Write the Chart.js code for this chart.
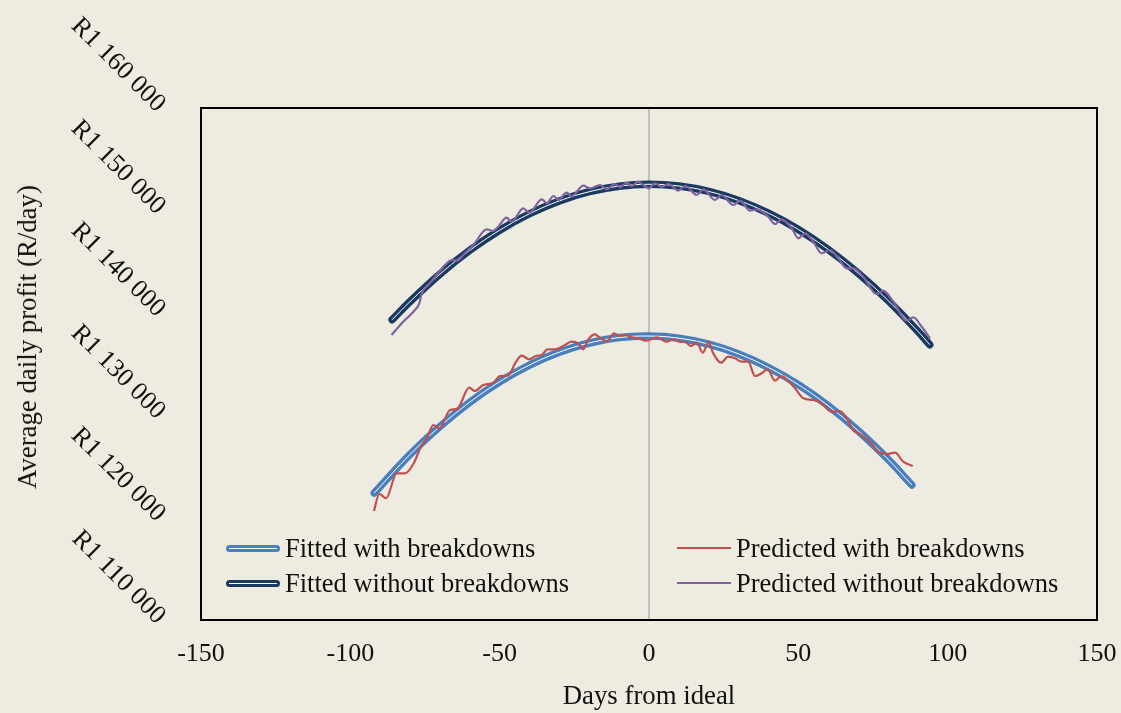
<!DOCTYPE html>
<html>
<head>
<meta charset="utf-8">
<title>Average daily profit vs days from ideal</title>
<script src="https://cdn.jsdelivr.net/npm/chart.js@4.4.1/dist/chart.umd.min.js"></script>
<style>
  html, body { margin: 0; padding: 0; background: #eeece1; }
  #wrap { position: relative; width: 1121px; height: 713px; }
  canvas { display: block; }
  .lg { position: absolute; height: 30px; font-family: "Liberation Serif", "Times New Roman", serif;
        font-size: 26.5px; line-height: 30px; color: #111; white-space: nowrap; }
  .lg .sw { position: absolute; left: 0; width: 54px; }
  .lg .txt { position: absolute; left: 59px; top: 0; }
  .sw.fit { top: 11.5px; height: 7px; border-radius: 3.5px; }
  .sw.fit::after { content: ''; position: absolute; left: 3px; right: 3px; top: 3px; height: 1px; background: #fff; }
  .sw.pred { top: 14px; height: 2px; }
  #ytitle { position: absolute; left: 27px; top: 337px; transform: translate(-50%, -50%) rotate(-90deg);
            font-family: "Liberation Serif", "Times New Roman", serif; font-size: 26.8px; line-height: 30px;
            color: #111; white-space: nowrap; }
</style>
</head>
<body>
<div id="wrap">
  <canvas id="chart" width="1121" height="713"></canvas>
  <div id="ytitle">Average daily profit (R/day)</div>
  <div class="lg" style="left:226px;top:533px"><span class="sw fit" style="background:#4a7fbd"></span><span class="txt">Fitted with breakdowns</span></div>
  <div class="lg" style="left:226px;top:568px"><span class="sw fit" style="background:#1b3a60"></span><span class="txt">Fitted without breakdowns</span></div>
  <div class="lg" style="left:677px;top:533px"><span class="sw pred" style="background:#c0504d"></span><span class="txt">Predicted with breakdowns</span></div>
  <div class="lg" style="left:677px;top:568px"><span class="sw pred" style="background:#8064a2"></span><span class="txt">Predicted without breakdowns</span></div>
</div>
<script>
// fitted curves (days from ideal -> R/day)
const fitWithDays = [-92, -80, -70, -60, -50, -40, -30, -20, -10, 0, 10, 20, 30, 40, 50, 60, 70, 80, 88];
const fitWithVals = [1122400, 1126170, 1128900, 1131270, 1133270, 1134900, 1136160, 1137050, 1137580, 1137730,
  1137520, 1136940, 1135980, 1134660, 1132980, 1130920, 1128490, 1125700, 1123190];

const fitWithoutDays = [-86, -80, -70, -60, -50, -40, -30, -20, -10, 0, 10, 20, 30, 40, 50, 60, 70, 80, 90, 94];
const fitWithoutVals = [1139324, 1141101, 1143778, 1146099, 1148064, 1149673, 1150927, 1151824, 1152365, 1152550,
  1152379, 1151852, 1150969, 1149730, 1148136, 1146185, 1143878, 1141215, 1138196, 1136889];

// predicted (simulated) curves
const predWithDays = [-92.1, -90.3, -88.0, -84.5, -81.7, -78.9, -76.1, -74.4, -72.2, -70.2, -66.6, -64.2, -60.2, -58.3,
  -55.5, -52.1, -49.9, -47.1, -44.5, -42.6, -40.1, -37.6, -35.9, -34.0, -31.5, -28.7, -25.9, -23.7, -22.0, -20.3,
  -18.1, -16.2, -14.0, -11.7, -9.9, -8.0, -5.8, -3.2, -0.8, 2.6, 5.9, 8.1, 10.4, 12.1, 14.0, 16.0, 18.0, 19.9, 21.5,
  24.1, 26.5, 28.8, 31.0, 33.2, 35.5, 37.7, 39.7, 42.2, 44.4, 46.6, 48.9, 51.7, 55.0, 57.8, 61.2, 63.9, 66.2, 68.4,
  70.6, 74.0, 76.8, 79.6, 82.4, 85.1, 88.3];
const predWithVals = [1120643, 1122303, 1121883, 1124324, 1124324, 1125233, 1127089, 1127743, 1129042, 1128719,
  1130507, 1130634, 1132685, 1132362, 1132948, 1133173, 1133827, 1133895, 1135224, 1135810, 1135458, 1135810,
  1135878, 1136434, 1136434, 1136757, 1137177, 1137021, 1136434, 1137411, 1137900, 1137509, 1137245, 1137997,
  1137734, 1137831, 1137607, 1137470, 1137275, 1137607, 1137177, 1137411, 1137148, 1137148, 1136757, 1137079,
  1136103, 1137118, 1136044, 1135126, 1135712, 1135556, 1135224, 1135224, 1133827, 1134091, 1134481, 1133368,
  1133827, 1133339, 1132626, 1131649, 1131483, 1131161, 1130341, 1130409, 1129696, 1128553, 1128163, 1127411,
  1126434, 1126210, 1126337, 1125458, 1125038];

const predWithoutDays = [-86.2, -82.3, -78.9, -76.9, -76.1, -73.9, -71.1, -68.3, -66.1, -64.2, -62.2, -58.8, -54.3,
  -52.1, -50.5, -47.7, -46.0, -42.1, -40.1, -35.9, -34.2, -32.0, -30.3, -27.6, -25.9, -22.0, -19.8, -16.4, -14.2,
  -11.4, -9.7, -7.5, -5.8, -3.6, -1.9, 0.0, 2.0, 4.2, 6.5, 9.8, 12.1, 16.0, 18.2, 22.1, 24.3, 28.2, 30.5, 33.8,
  36.1, 39.9, 42.2, 44.4, 47.8, 50.0, 52.2, 55.0, 57.8, 60.6, 63.4, 66.2, 68.4, 71.7, 76.2, 78.4, 81.8, 86.3, 88.5,
  91.3, 94.1];
const predWithoutVals = [1137831, 1139130, 1140107, 1140927, 1141904, 1142714, 1143691, 1144667, 1145156, 1145087,
  1145644, 1146621, 1148154, 1147988, 1148408, 1149287, 1148896, 1150205, 1149775, 1151084, 1150693, 1151406,
  1151015, 1151728, 1151406, 1152412, 1152158, 1152480, 1152060, 1152578, 1152256, 1152705, 1152383, 1152803,
  1152480, 1152158, 1152646, 1152314, 1152578, 1151924, 1152383, 1151504, 1152060, 1151015, 1151504, 1150527,
  1150947, 1149970, 1150107, 1149384, 1148671, 1149131, 1148252, 1147275, 1147763, 1146943, 1145810, 1146132,
  1145322, 1144345, 1144345, 1143525, 1141835, 1142158, 1141083, 1139228, 1139560, 1138642, 1137509];

// axis ticks
const xTicks = [-150, -100, -50, 0, 50, 100, 150];
const yTicks = [1110000, 1120000, 1130000, 1140000, 1150000, 1160000];

const serif = '"Liberation Serif", "Times New Roman", serif';
Chart.defaults.font.family = serif;
Chart.defaults.font.size = 26;
Chart.defaults.color = '#111';

const pts = (xs, ys) => xs.map((x, i) => ({ x, y: ys[i] }));
const spaced = v => String(v).replace(/\B(?=(\d{3})+(?!\d))/g, ' ');

// black box round the plot area
const framePlugin = {
  id: 'frame',
  beforeDatasetsDraw(chart) {
    const { ctx, chartArea: a } = chart;
    ctx.save();
    ctx.strokeStyle = '#000';
    ctx.lineWidth = 2;
    ctx.strokeRect(a.left, a.top, a.right - a.left, a.bottom - a.top);
    ctx.restore();
  },
};

const fitted = (data, color, order) => ({
  data, borderColor: color, borderWidth: 7.5, tension: 0.4, pointRadius: 0,
  borderCapStyle: 'round', borderJoinStyle: 'round', order,
});
const inner = (data, order) => ({
  data, borderColor: '#ffffff', borderWidth: 1, tension: 0.4, pointRadius: 0, order,
});
const predicted = (data, color, order) => ({
  data, borderColor: color, borderWidth: 2.2, cubicInterpolationMode: 'monotone', pointRadius: 0, order,
});

new Chart(document.getElementById('chart'), {
  type: 'line',
  data: {
    datasets: [
      { label: 'Fitted with breakdowns', ...fitted(pts(fitWithDays, fitWithVals), '#4a7fbd', 6) },
      inner(pts(fitWithDays, fitWithVals), 5),
      { label: 'Fitted without breakdowns', ...fitted(pts(fitWithoutDays, fitWithoutVals), '#1b3a60', 4) },
      inner(pts(fitWithoutDays, fitWithoutVals), 3),
      { label: 'Predicted with breakdowns', ...predicted(pts(predWithDays, predWithVals), '#c0504d', 2) },
      { label: 'Predicted without breakdowns', ...predicted(pts(predWithoutDays, predWithoutVals), '#8064a2', 1) },
    ],
  },
  options: {
    responsive: false,
    animation: false,
    layout: { padding: { top: 108, right: 24, bottom: 0, left: 0 } },
    plugins: { legend: { display: false }, tooltip: { enabled: false } },
    scales: {
      x: {
        type: 'linear', min: xTicks[0], max: xTicks[xTicks.length - 1],
        afterBuildTicks: s => { s.ticks = xTicks.map(value => ({ value })); },
        afterFit: s => { s.height = 93; s.paddingLeft = 0; s.paddingRight = 0; },
        border: { display: false },
        grid: {
          drawTicks: false, lineWidth: 2,
          color: c => (c.tick && c.tick.value === 0 ? '#c0c0c0' : 'rgba(0,0,0,0)'),
        },
        ticks: { padding: 19, callback: v => String(v), font: { size: 26, lineHeight: 1.2 } },
        title: { display: true, text: 'Days from ideal', padding: { top: 0, bottom: 0 }, font: { size: 26.8, lineHeight: 1.2 } },
      },
      y: {
        type: 'linear', min: yTicks[0], max: yTicks[yTicks.length - 1],
        afterBuildTicks: s => { s.ticks = yTicks.map(value => ({ value })); },
        afterFit: s => { s.width = 201; },
        border: { display: false },
        grid: { display: false },
        ticks: {
          padding: 32, minRotation: -45, maxRotation: -45,
          callback: v => 'R' + spaced(v), font: { size: 26, lineHeight: 1.2 },
        },
      },
    },
  },
  plugins: [framePlugin],
});
</script>
</body>
</html>
